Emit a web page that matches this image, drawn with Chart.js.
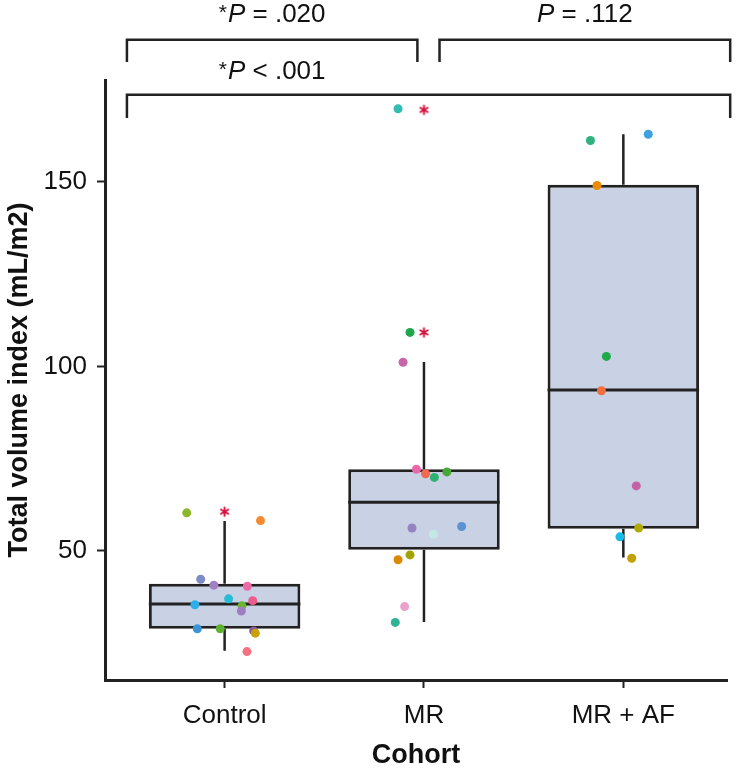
<!DOCTYPE html>
<html>
<head>
<meta charset="utf-8">
<script src="https://cdn.jsdelivr.net/npm/chart.js@4"></script>
<style>
  html, body { margin: 0; padding: 0; background: #fff; }
  #wrap { width: 743px; height: 776px; }
</style>
</head>
<body>
<div id="wrap"><canvas id="chart"></canvas></div>
<script>
const categories = ["Control", "MR", "MR + AF"];
const yTicks = [50, 100, 150];

// box summary per cohort
const q1 = [28.9, 50.3, 56.0];
const medians = [35.6, 63.2, 93.6];
const q3 = [41.1, 72.1, 149.2];
const whiskLow = [22.9, 30.7, 48.2];
const whiskHigh = [58.1, 101.2, 162.9];

// outliers flagged with an asterisk
const starCohort = [0, 1, 1];
const starValues = [60.6, 109.2, 169.5];

// individual patients (x offset = jitter)
const controlValues = [60.3, 58.2, 42.3, 40.7, 40.4, 37.0, 36.5, 35.4, 35.1, 33.7, 28.9, 28.9, 28.3, 27.7, 22.7];
const controlJitter = [-0.19, 0.18, -0.12, -0.054, 0.114, 0.02, 0.141, -0.149, 0.087, 0.084, -0.137, -0.022, 0.146, 0.154, 0.112];
const controlColors = ["#8bb82b", "#f28a30", "#7d8cc6", "#a27fc0", "#ee6aa6", "#25bcd4", "#ec5c8c", "#2db0ea",
  "#6cb52e", "#a07ec2", "#3b93d8", "#5eb233", "#8a5a9a", "#c9a200", "#f27282"];

const mrValues = [169.8, 109.2, 101.1, 72.1, 70.9, 69.9, 71.4, 56.2, 54.5, 56.6, 48.9, 47.6, 34.9, 30.6];
const mrJitter = [-0.13, -0.07, -0.105, -0.038, 0.008, 0.052, 0.115, -0.06, 0.047, 0.189, -0.07, -0.13, -0.097, -0.144];
const mrColors = ["#33bcb0", "#1fa64a", "#c966aa", "#ea68aa", "#f26a50", "#2fb174", "#43a834", "#9683c2",
  "#c4e8e6", "#5b93d2", "#a3a300", "#db8a00", "#eaa2cc", "#2fb295"];

const mrafValues = [161.2, 162.9, 149.0, 102.7, 93.4, 67.6, 56.2, 53.8, 48.0];
const mrafJitter = [-0.165, 0.125, -0.132, -0.085, -0.11, 0.065, 0.077, -0.017, 0.042];
const mrafColors = ["#2fb27e", "#3ea2e2", "#ea8c00", "#1ea94a", "#f2703e", "#c462a4", "#b2aa00", "#16bbe8", "#c2a000"];

// significance brackets: [from, to] on the cohort axis, top and foot in y units
const bracketFrom = [-0.49, 1.078, -0.49];
const bracketTo = [0.967, 2.536, 2.536];
const bracketTop = [188.5, 188.5, 173.6];
const bracketFoot = [182.5, 182.5, 167.3];

const pStar = [true, false, true];
const pOp = ["=", "=", "<"];
const pText = [".020", ".112", ".001"];
const pX = [0.2385, 1.807, 0.2385];
const pY = [195.2, 195.2, 179.8];

const FONT = "'Liberation Sans', Arial, Helvetica, sans-serif";
const INK = "#222";
const TXT = "#111";
const half = 0.38;

function makeAsterisk() {
  const c = document.createElement("canvas");
  c.width = 13; c.height = 13;
  const g = c.getContext("2d");
  g.strokeStyle = "#d4103c";
  g.lineWidth = 1.9;
  g.beginPath();
  for (let k = 0; k < 3; k++) {
    const a = Math.PI / 2 + k * Math.PI / 3;
    g.moveTo(6.5 - 5 * Math.cos(a), 6.5 - 5 * Math.sin(a));
    g.lineTo(6.5 + 5 * Math.cos(a), 6.5 + 5 * Math.sin(a));
  }
  g.stroke();
  return c;
}

const points = [];
const pointColors = [];
[[controlValues, controlJitter, controlColors],
 [mrValues, mrJitter, mrColors],
 [mrafValues, mrafJitter, mrafColors]].forEach(([vals, jit, cols], i) => {
  vals.forEach((v, j) => {
    points.push({ x: i + jit[j], y: v });
    pointColors.push(cols[j]);
  });
});

const whiskers = [];
const medianLines = [];
categories.forEach((c, i) => {
  whiskers.push({ x: i, y: q3[i] }, { x: i, y: whiskHigh[i] }, { x: i, y: null },
                { x: i, y: q1[i] }, { x: i, y: whiskLow[i] }, { x: i, y: null });
  medianLines.push({ x: i - half, y: medians[i] }, { x: i + half, y: medians[i] }, { x: i + half, y: null });
});

const bracketPlugin = {
  id: "brackets",
  afterDraw(chart) {
    const { ctx, scales: { x, y } } = chart;
    ctx.save();
    ctx.strokeStyle = INK;
    ctx.lineWidth = 2.5;
    bracketFrom.forEach((f, i) => {
      const x1 = x.getPixelForValue(f), x2 = x.getPixelForValue(bracketTo[i]);
      const yt = y.getPixelForValue(bracketTop[i]), yb = y.getPixelForValue(bracketFoot[i]);
      ctx.beginPath();
      ctx.moveTo(x1, yb);
      ctx.lineTo(x1, yt);
      ctx.lineTo(x2, yt);
      ctx.lineTo(x2, yb);
      ctx.stroke();
    });

    ctx.fillStyle = TXT;
    ctx.textBaseline = "middle";
    ctx.textAlign = "left";
    pText.forEach((t, i) => {
      const starFont = "21px " + FONT;
      const pFont = "italic 26px " + FONT;
      const restFont = "26px " + FONT;
      const rest = " " + pOp[i] + " " + t;
      ctx.font = starFont;
      const ws = pStar[i] ? ctx.measureText("*").width + 1 : 0;
      ctx.font = pFont;
      const wp = ctx.measureText("P").width;
      ctx.font = restFont;
      const wr = ctx.measureText(rest).width;
      let cx = x.getPixelForValue(pX[i]) - (ws + wp + wr) / 2;
      const cy = y.getPixelForValue(pY[i]);
      if (pStar[i]) {
        ctx.font = starFont;
        ctx.fillText("*", cx, cy - 2);
        cx += ws;
      }
      ctx.font = pFont;
      ctx.fillText("P", cx, cy);
      cx += wp;
      ctx.font = restFont;
      ctx.fillText(rest, cx, cy);
    });
    ctx.restore();
  }
};

new Chart(document.getElementById("chart"), {
  type: "scatter",
  data: {
    datasets: [
      {
        type: "scatter",
        data: points,
        pointRadius: 4.5,
        pointBackgroundColor: pointColors,
        pointBorderWidth: 0,
        order: 0
      },
      {
        type: "scatter",
        data: starValues.map((v, i) => ({ x: starCohort[i], y: v })),
        pointStyle: makeAsterisk(),
        order: 1
      },
      {
        type: "line",
        data: medianLines,
        borderColor: INK,
        borderWidth: 3,
        pointRadius: 0,
        spanGaps: false,
        order: 2
      },
      {
        type: "line",
        data: whiskers,
        borderColor: INK,
        borderWidth: 2.5,
        pointRadius: 0,
        spanGaps: false,
        order: 3
      },
      {
        type: "bar",
        data: categories.map((c, i) => ({ x: i, y: [q1[i], q3[i]] })),
        backgroundColor: "#c9d1e4",
        borderColor: INK,
        borderWidth: 3,
        borderSkipped: false,
        categoryPercentage: 1,
        barPercentage: half * 2,
        order: 4
      }
    ]
  },
  options: {
    responsive: true,
    maintainAspectRatio: false,
    animation: false,
    layout: { padding: { top: 80, right: 16, left: 0, bottom: 0 } },
    plugins: {
      legend: { display: false },
      tooltip: { enabled: false }
    },
    scales: {
      x: {
        type: "linear",
        min: -0.6,
        max: 2.52,
        offset: false,
        afterBuildTicks: s => { s.ticks = categories.map((c, i) => ({ value: i })); },
        afterFit: s => { s.height = 96; },
        ticks: {
          callback: v => categories[v],
          font: { family: FONT, size: 26 },
          color: TXT,
          padding: 12,
          maxRotation: 0,
          autoSkip: false
        },
        grid: { offset: false, drawOnChartArea: false, drawTicks: true, tickLength: 8, tickWidth: 2, tickColor: INK },
        border: { display: true, color: INK, width: 3 },
        title: {
          display: true,
          text: "Cohort",
          font: { family: FONT, size: 27, weight: "bold" },
          color: TXT,
          padding: { top: 0, bottom: 4 }
        }
      },
      y: {
        type: "linear",
        min: 15,
        max: 177.6,
        afterBuildTicks: s => { s.ticks = yTicks.map(v => ({ value: v })); },
        afterFit: s => { s.width = 105; },
        ticks: {
          font: { family: FONT, size: 26 },
          color: TXT,
          padding: 10
        },
        grid: { drawOnChartArea: false, drawTicks: true, tickLength: 8, tickWidth: 2, tickColor: INK },
        border: { display: true, color: INK, width: 3 },
        title: {
          display: true,
          text: "Total volume index (mL/m2)",
          font: { family: FONT, size: 27, weight: "bold" },
          color: TXT,
          padding: { top: 3, bottom: 0 }
        }
      }
    }
  },
  plugins: [bracketPlugin]
});
</script>
</body>
</html>
